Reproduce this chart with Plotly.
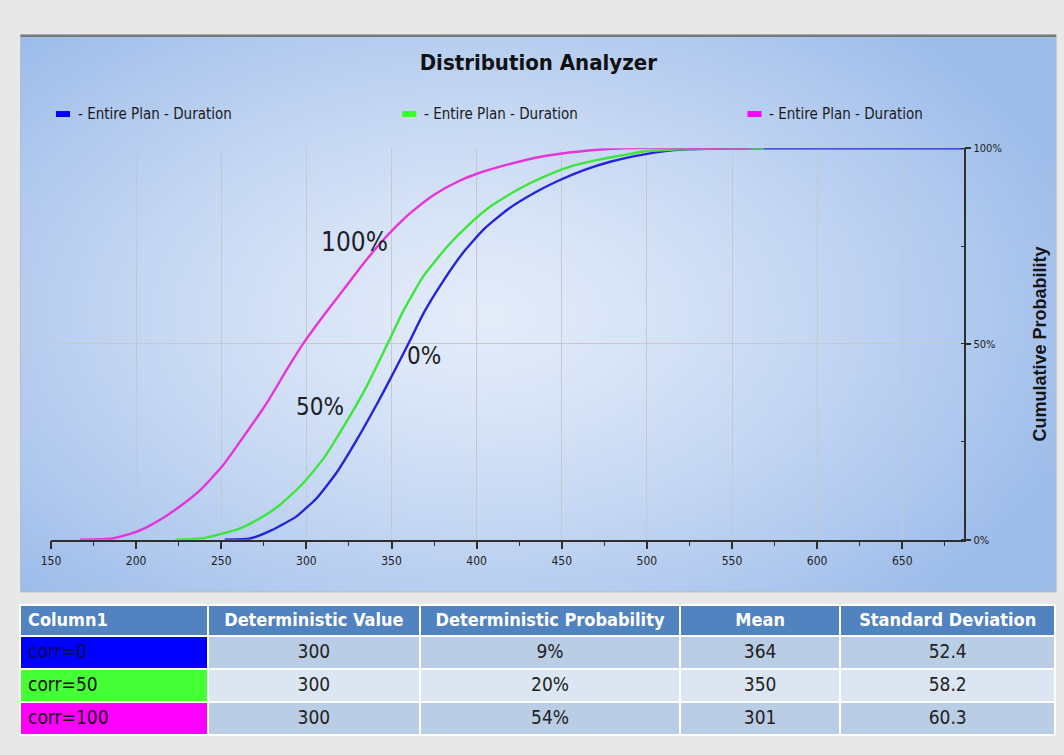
import base64
import struct
import zlib

import numpy as np
import plotly.graph_objects as go

# ---- cumulative distributions of total plan duration (percent) ----
x_corr0 = [252, 267, 279, 294, 306, 318, 330, 342, 351, 361, 369, 381, 392, 404,
           418, 434, 447, 463, 479, 497, 516, 540, 561, 686]
cdf_corr0 = [0, 0.3, 2.3, 5.9, 10.6, 17.3, 25.8, 35.1, 42.5, 51.0, 58.0, 66.5, 73.3, 79.2,
             84.3, 88.6, 91.5, 94.4, 96.6, 98.3, 99.5, 99.9, 100, 100]

x_corr50 = [223, 240, 250, 260, 270, 283, 297, 310, 322, 334, 346, 357, 369, 383,
            395, 408, 424, 440, 455, 471, 487, 497, 520, 545, 569]
cdf_corr50 = [0, 0.4, 1.5, 2.7, 4.8, 8.4, 13.9, 20.7, 29.0, 38.0, 48.5, 58.5, 67.5, 75.0,
              80.3, 85.1, 89.4, 92.8, 95.3, 97.0, 98.3, 99.1, 99.7, 100, 100]

x_corr100 = [167, 186, 200, 208, 216, 226, 238, 251, 265, 277, 289, 298, 310, 322,
             334, 346, 355, 361, 375, 389, 401, 418, 434, 451, 471, 487, 520, 561]
cdf_corr100 = [0, 0.3, 2.0, 3.6, 5.6, 8.6, 12.8, 19.0, 27.5, 35.1, 43.8, 50.0, 57.2, 64.0,
               70.8, 77.0, 81.0, 83.4, 88.1, 91.5, 93.6, 95.8, 97.5, 98.7, 99.6, 100, 100, 100]

curve_labels = ["0%", "50%", "100%"]
legend_text = "- Entire Plan - Duration"
x_ticks = [150, 200, 250, 300, 350, 400, 450, 500, 550, 600, 650]
y_ticks = [0, 50, 100]
y_tick_text = ["0%", "50%", "100%"]

# ---- summary table ----
table_header = ["Column1", "Deterministic Value", "Deterministic Probability",
                "Mean", "Standard Deviation"]
row_labels = ["corr=0", "corr=50", "corr=100"]
det_value = [300, 300, 300]
det_prob = ["9%", "20%", "54%"]
mean_val = [364, 350, 301]
std_dev = [52.4, 58.2, 60.3]

W, H = 1064, 755
NARROW = "Liberation Sans Narrow, Arial Narrow, DejaVu Sans Condensed, sans-serif"
BOLD = "Liberation Sans, Arial, sans-serif"

C_BLUE, C_GREEN, C_MAG = "#2424d8", "#3ce63c", "#e434da"

# layout grid: positions below are given in a slightly scaled page frame
SX, OXP = 0.99, 10.0
SY, OYP = 0.987, 5.5


def fx(x):
    return ((x - OXP) / SX) / W


def fy(y):
    return 1 - ((y - OYP) / SY) / H


def gradient_png(w, h):
    """Soft radial blue gradient used behind the chart panel."""
    yy, xx = np.mgrid[0:h, 0:w]
    cx, cy = 0.44 * w, 0.50 * h
    d = np.sqrt(((xx - cx) / (0.62 * w)) ** 2 + ((yy - cy) / (0.72 * h)) ** 2)
    t = np.clip(d, 0, 1) ** 1.3
    inner = np.array([228, 236, 250], float)
    outer = np.array([156, 188, 234], float)
    img = (inner[None, None, :] * (1 - t[..., None]) + outer[None, None, :] * t[..., None])
    img = img.astype(np.uint8)
    raw = b"".join(b"\x00" + img[r].tobytes() for r in range(h))

    def chunk(tag, data):
        c = struct.pack(">I", len(data)) + tag + data
        return c + struct.pack(">I", zlib.crc32(tag + data) & 0xFFFFFFFF)

    png = b"\x89PNG\r\n\x1a\n" + chunk(b"IHDR", struct.pack(">IIBBBBB", w, h, 8, 2, 0, 0, 0))
    png += chunk(b"IDAT", zlib.compress(raw, 9)) + chunk(b"IEND", b"")
    return "data:image/png;base64," + base64.b64encode(png).decode()


fig = go.Figure()

for xs, ys, col, name in [(x_corr0, cdf_corr0, C_BLUE, row_labels[0]),
                          (x_corr50, cdf_corr50, C_GREEN, row_labels[1]),
                          (x_corr100, cdf_corr100, C_MAG, row_labels[2])]:
    fig.add_trace(go.Scatter(x=xs, y=ys, mode="lines", name=name,
                             line=dict(color=col, width=2.4, shape="spline", smoothing=0.5),
                             showlegend=False, hoverinfo="x+y+name"))

# summary table below the chart
blue_cell, green_cell, mag_cell = "#0000ff", "#44ff33", "#ff00ff"
row_a, row_b = "#b9cde5", "#dce6f2"
body_fill = [row_a, row_b, row_a]
fig.add_trace(go.Table(
    domain=dict(x=[fx(20), fx(1055)], y=[0, fy(607)]),
    columnwidth=[187, 212, 259, 160, 214],
    header=dict(values=table_header, fill_color="#5083c0",
                font=dict(family=NARROW, size=18, color="white", weight="bold"),
                align=["left", "center", "center", "center", "center"],
                height=31, line=dict(color="white", width=2)),
    cells=dict(values=[row_labels, det_value, det_prob, mean_val, std_dev],
               fill_color=[[blue_cell, green_cell, mag_cell], body_fill, body_fill,
                           body_fill, body_fill],
               font=dict(family=NARROW, size=19,
                         color=[["#0a0a50", "#111111", "#111111"], "#222222", "#222222",
                                "#222222", "#222222"]),
               format=["", "", "", "", ".1f"],
               align=["left", "center", "center", "center", "center"],
               height=33, line=dict(color="white", width=2)),
))

x_dom = [fx(51), fx(963)]
y_dom = [fy(541.5), fy(148.3)]

annotations = []
# labels naming each curve by correlation
for text, (ax_, ay_), size in zip(curve_labels, [(424, 357), (320, 408), (354, 243)], [24, 24, 26]):
    annotations.append(dict(x=fx(ax_), y=fy(ay_), xref="paper", yref="paper", text=text,
                            showarrow=False, font=dict(family=NARROW, size=size, color="#1e1e28"),
                            xanchor="center", yanchor="middle"))

shapes = []
# legend row
for mx, col in [(56, "#0000ff"), (402, "#33ff33"), (747, "#ff00ff")]:
    shapes.append(dict(type="rect", xref="paper", yref="paper",
                       x0=fx(mx), x1=fx(mx + 14), y0=fy(117), y1=fy(111),
                       fillcolor=col, line=dict(width=0)))
    annotations.append(dict(x=fx(mx + 20), y=fy(114), xref="paper", yref="paper",
                            text=legend_text, showarrow=False, xanchor="left", yanchor="middle",
                            font=dict(family=NARROW, size=15, color="#1a1a1a")))

# panel frame
shapes.append(dict(type="rect", xref="paper", yref="paper", x0=fx(20.5), x1=fx(1055.5),
                   y0=fy(594), y1=fy(35), line=dict(color="#b4bfcc", width=1),
                   fillcolor="rgba(0,0,0,0)", layer="below"))
shapes.append(dict(type="line", xref="paper", yref="paper", x0=fx(20.5), x1=fx(1055.5),
                   y0=fy(35.5), y1=fy(35.5), line=dict(color="#787878", width=2.5),
                   layer="below"))

img_x0, img_x1 = fx(20.5), fx(1055.5)
img_y0, img_y1 = fy(35), fy(594)

fig.update_layout(
    width=W, height=H,
    margin=dict(l=0, r=0, t=0, b=0),
    paper_bgcolor="#e8e8e8",
    plot_bgcolor="rgba(0,0,0,0)",
    title=dict(text="<b>Distribution Analyzer</b>", x=fx(538), y=fy(62),
               xanchor="center", yanchor="middle", xref="paper", yref="paper",
               font=dict(family=NARROW, size=22, color="#111111")),
    images=[dict(source=gradient_png(260, 140), xref="paper", yref="paper",
                 x=img_x0, y=img_y0, sizex=img_x1 - img_x0, sizey=img_y0 - img_y1,
                 sizing="stretch", xanchor="left", yanchor="top", layer="below")],
    xaxis=dict(domain=x_dom, range=[150, 686], tickmode="array", tickvals=x_ticks,
               showline=True, linecolor="#2e2e2e", linewidth=1.5,
               ticks="outside", ticklen=8, tickwidth=1.5, tickcolor="#2e2e2e",
               minor=dict(ticks="outside", ticklen=5, tickwidth=1.2, tickcolor="#2e2e2e",
                          dtick=25, tick0=150, showgrid=False),
               showgrid=True, gridcolor="#c3c8d2", gridwidth=1, zeroline=False,
               tickfont=dict(family=NARROW, size=12, color="#222222"),
               ticklabelstandoff=1, fixedrange=True),
    yaxis=dict(domain=y_dom, range=[0, 100], side="right", tickmode="array",
               tickvals=y_ticks, ticktext=y_tick_text,
               showline=True, linecolor="#2e2e2e", linewidth=1.5,
               ticks="outside", ticklen=6, tickwidth=1.5, tickcolor="#2e2e2e",
               minor=dict(ticks="inside", ticklen=3, tickwidth=1.2, tickcolor="#2e2e2e",
                          dtick=25, tick0=0, showgrid=False),
               showgrid=True, gridcolor="#c9c8c8", gridwidth=1, zeroline=False,
               tickfont=dict(family=NARROW, size=11, color="#222222"),
               title=dict(text="<b>Cumulative Probability</b>", standoff=33,
                          font=dict(family=BOLD, size=18, color="#151515")),
               fixedrange=True),
    annotations=annotations,
    shapes=shapes,
    showlegend=False,
)

fig.write_html("out.html")
